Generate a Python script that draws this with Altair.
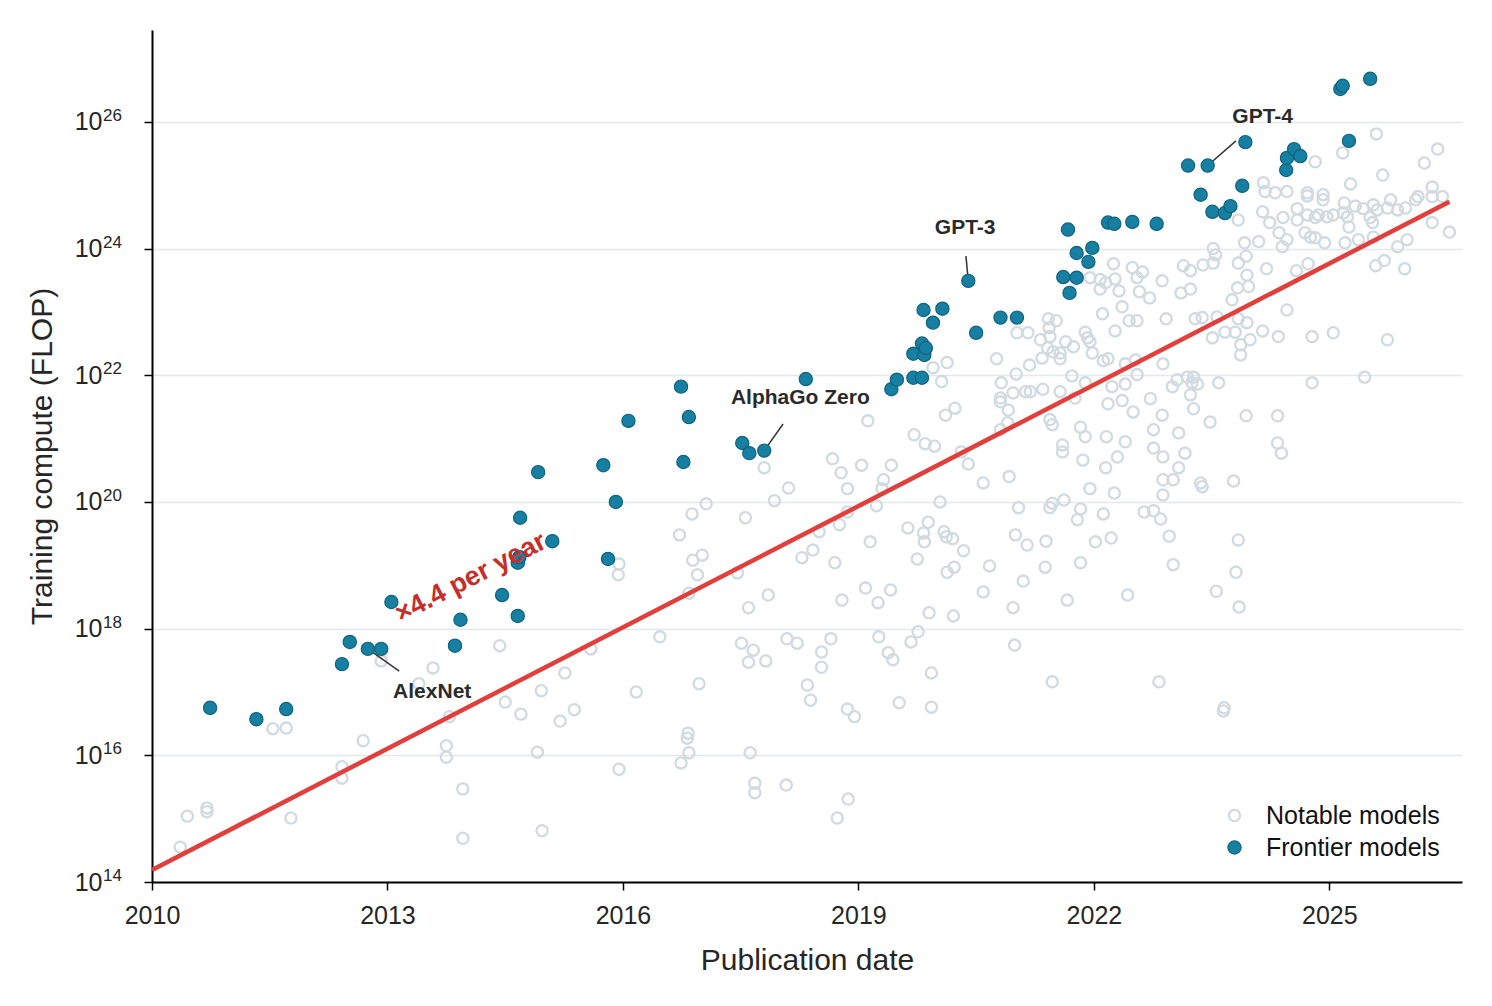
import altair as alt
import pandas as pd

# ---------------- data (publication year, log10 training FLOP) ----------------
notable_year = [
    2010.36, 2010.45, 2010.70, 2010.70, 2011.54, 2011.71, 2011.77, 2012.42, 2012.42, 2012.69,
    2012.92, 2013.40, 2013.58, 2013.79, 2013.75, 2013.75, 2013.96, 2013.96, 2014.43, 2014.50,
    2014.70, 2014.68, 2014.66, 2014.91, 2014.97, 2014.96, 2015.26, 2015.20, 2015.38, 2015.59,
    2015.95, 2015.94, 2015.95, 2016.17, 2016.47, 2016.72, 2016.88, 2017.06, 2016.89, 2017.01,
    2016.95, 2016.84, 2016.97, 2016.83, 2016.82, 2016.84, 2016.74, 2017.56, 2017.46, 2017.60,
    2017.51, 2017.66, 2017.60, 2017.62, 2017.68, 2017.68, 2017.80, 2017.93, 2018.11, 2018.67,
    2018.78, 2018.86, 2019.04, 2019.12, 2019.42, 2019.32, 2019.30, 2019.23, 2019.71, 2019.85,
    2019.97, 2020.11, 2020.23, 2019.95, 2020.13, 2020.06, 2020.31, 2020.40, 2020.59, 2020.04,
    2020.76, 2020.82, 2021.01, 2021.18, 2020.97, 2021.13, 2021.19, 2020.81, 2020.81, 2020.91,
    2021.35, 2021.57, 2021.44, 2021.47, 2021.60, 2021.60, 2020.92, 2020.81, 2020.90, 2021.04,
    2021.44, 2021.47, 2021.62, 2021.00, 2021.15, 2021.39, 2021.38, 2021.10, 2020.97, 2020.99,
    2021.47, 2021.66, 2020.67, 2020.59, 2020.21, 2020.34, 2020.22, 2020.13, 2020.09, 2020.12,
    2020.20, 2019.89, 2019.83, 2019.84, 2019.63, 2019.75, 2019.90, 2019.76, 2019.67, 2019.26,
    2019.38, 2019.44, 2019.93, 2019.52, 2019.93, 2019.15, 2018.76, 2018.86, 2018.50, 2018.42,
    2018.28, 2018.70, 2017.85, 2018.79, 2019.09, 2019.25, 2019.41, 2018.09, 2018.22, 2017.82,
    2018.65, 2018.53, 2018.53, 2018.35, 2018.39, 2018.86, 2018.95, 2018.08, 2018.87, 2018.73,
    2022.25, 2022.49, 2022.62, 2022.55, 2022.87, 2023.14, 2023.23, 2023.52, 2023.55, 2023.39,
    2023.52, 2023.84, 2021.95, 2022.08, 2022.15, 2022.27, 2022.08, 2022.32, 2022.58, 2022.71,
    2023.11, 2023.23, 2023.76, 2023.83, 2022.36, 2022.11, 2021.42, 2021.52, 2021.43, 2021.02,
    2021.16, 2021.32, 2021.44, 2021.41, 2021.48, 2021.57, 2021.64, 2021.74, 2021.89, 2021.92,
    2021.95, 2021.98, 2022.27, 2022.45, 2022.55, 2022.92, 2023.29, 2023.38, 2023.57, 2023.51,
    2023.67, 2021.34, 2021.57, 2022.12, 2022.18, 2022.40, 2022.53, 2022.88, 2021.72, 2021.89,
    2021.76, 2022.23, 2022.40, 2022.55, 2022.18, 2022.36, 2022.50, 2022.72, 2023.00, 2023.06,
    2023.19, 2023.27, 2023.25, 2023.32, 2023.59, 2023.23, 2023.27, 2023.48, 2022.87, 2021.83,
    2021.89, 2022.16, 2022.40, 2021.86, 2022.30, 2022.15, 2022.76, 2022.76, 2022.88, 2023.08,
    2023.16, 2023.08, 2021.95, 2022.26, 2022.88, 2023.01, 2022.88, 2023.36, 2023.38, 2023.78,
    2021.83, 2021.79, 2022.12, 2022.64, 2022.76, 2022.85, 2022.02, 2022.22, 2022.96, 2023.84,
    2021.83, 2023.01, 2022.43, 2023.56, 2023.85, 2023.81, 2022.83, 2023.65, 2023.66,
    2025.60, 2026.38, 2026.21, 2025.17, 2024.82, 2025.68, 2025.27, 2024.16, 2024.18, 2024.31,
    2024.46, 2024.72, 2024.72, 2024.92, 2024.92, 2025.19, 2025.33, 2025.43, 2025.56, 2025.61,
    2025.78, 2025.74, 2025.87, 2025.97, 2026.10, 2026.13, 2026.31, 2026.31, 2026.44, 2024.15,
    2024.24, 2024.41, 2024.59, 2024.59, 2024.72, 2024.82, 2024.86, 2024.97, 2025.05, 2025.18,
    2025.23, 2025.25, 2025.20, 2025.52, 2025.55, 2025.56, 2025.37, 2024.36, 2024.46, 2024.40,
    2024.69, 2024.76, 2024.82, 2024.94, 2023.84, 2024.10, 2023.92, 2025.87, 2025.99, 2026.31,
    2026.53, 2023.94, 2023.95, 2023.97, 2024.20, 2024.58, 2024.73, 2025.59, 2025.70, 2025.96,
    2024.46, 2023.84, 2023.95, 2023.80, 2023.99, 2023.87, 2023.87, 2024.15, 2024.35, 2024.78,
    2025.05, 2025.74, 2024.78, 2025.45, 2023.94, 2024.34, 2024.34, 2024.39,
]
notable_log = [
    14.55, 15.04, 15.17, 15.11, 16.42, 16.43, 15.01, 15.82, 15.64, 16.23,
    17.49, 17.13, 17.38, 16.61, 16.15, 15.97, 15.47, 14.69, 17.73, 16.84,
    16.65, 19.05, 18.20, 16.05, 14.81, 17.02, 17.30, 16.54, 16.72, 17.68,
    19.02, 18.85, 15.78, 17.00, 17.87, 19.48, 19.81, 19.97, 19.08, 19.16,
    18.85, 18.56, 17.13, 16.35, 16.27, 16.04, 15.88, 19.75, 18.88, 18.33,
    17.77, 17.66, 17.47, 16.04, 15.56, 15.41, 20.54, 20.02, 20.22, 20.68,
    20.46, 20.21, 20.58, 21.28, 20.58, 20.35, 20.21, 19.94, 21.06, 20.92,
    20.88, 21.37, 21.48, 22.12, 22.20, 21.90, 20.79, 20.60, 20.30, 20.00,
    22.26, 21.88, 22.02, 22.16, 21.72, 21.74, 21.74, 21.64, 21.58, 21.45,
    21.78, 21.74, 21.30, 21.22, 20.90, 20.79, 20.40, 21.14, 21.25, 19.91,
    19.91, 19.98, 20.03, 19.48, 19.32, 19.38, 18.97, 18.75, 18.33, 17.74,
    17.16, 18.45, 18.99, 18.58, 18.20, 19.23, 18.97, 18.89, 19.53, 19.45,
    19.42, 19.68, 19.51, 19.37, 19.59, 19.10, 18.25, 17.95, 17.79, 17.87,
    17.62, 17.51, 17.30, 16.83, 16.76, 19.37, 19.64, 19.84, 19.53, 19.24,
    19.12, 19.04, 18.53, 18.45, 18.64, 18.41, 18.61, 17.84, 17.77, 17.49,
    17.84, 17.63, 17.39, 17.11, 16.87, 16.73, 16.61, 15.53, 15.31, 15.01,
    23.76, 23.70, 23.63, 23.54, 23.49, 23.73, 23.65, 24.00, 23.90, 23.74,
    23.77, 23.77, 23.54, 23.51, 23.46, 23.52, 23.36, 23.33, 23.32, 23.22,
    23.30, 23.36, 23.19, 23.38, 23.08, 22.97, 22.89, 22.86, 22.75, 22.67,
    22.67, 22.56, 22.61, 22.43, 22.37, 22.35, 22.53, 22.45, 22.68, 22.59,
    22.53, 22.35, 22.70, 22.86, 22.86, 22.89, 22.89, 22.91, 22.92, 22.59,
    22.68, 22.27, 22.26, 22.23, 22.26, 22.18, 22.24, 22.18, 21.99, 21.88,
    21.64, 21.82, 21.86, 22.01, 21.55, 21.60, 21.42, 21.63, 21.82, 21.93,
    21.97, 21.97, 21.88, 21.86, 21.88, 21.69, 21.47, 21.26, 21.37, 21.18,
    21.03, 21.03, 20.95, 20.66, 20.71, 20.54, 21.14, 20.85, 20.71, 21.09,
    20.77, 20.54, 20.21, 20.14, 20.35, 20.35, 20.11, 20.30, 20.24, 20.33,
    19.89, 19.72, 19.81, 19.84, 19.86, 19.73, 19.37, 19.43, 19.46, 19.40,
    19.04, 19.01, 18.53, 18.59, 18.34, 18.89, 17.16, 16.70, 16.75,
    25.81, 25.57, 25.35, 25.51, 25.37, 25.16, 25.02, 25.04, 24.90, 24.88,
    24.90, 24.88, 24.83, 24.85, 24.77, 24.72, 24.67, 24.63, 24.69, 24.61,
    24.77, 24.64, 24.61, 24.64, 24.77, 24.82, 24.97, 24.82, 24.82, 24.58,
    24.41, 24.49, 24.63, 24.45, 24.53, 24.49, 24.53, 24.50, 24.53, 24.56,
    24.50, 24.34, 24.09, 24.49, 24.41, 24.18, 24.14, 24.25, 24.14, 24.03,
    24.25, 24.18, 24.17, 24.09, 24.45, 24.11, 24.09, 24.03, 24.14, 24.41,
    24.26, 23.88, 23.58, 23.40, 23.68, 23.65, 23.76, 23.73, 23.81, 23.68,
    23.03, 22.89, 22.83, 22.68, 22.56, 22.48, 22.32, 22.70, 22.61, 22.61,
    22.67, 22.56, 21.88, 21.97, 21.36, 21.36, 20.93, 20.77,
]

frontier_year = [
    2010.74, 2011.33, 2011.71, 2012.42, 2012.52, 2012.75, 2012.92, 2013.05, 2013.86, 2013.93,
    2014.46, 2014.66, 2014.66, 2014.68, 2014.69, 2014.92, 2015.10, 2015.75, 2015.81, 2015.91,
    2016.07, 2016.74, 2016.77, 2016.84, 2017.52, 2017.61, 2017.80, 2018.33, 2019.42, 2019.49,
    2019.70, 2019.70, 2019.81, 2019.83, 2019.84, 2019.86, 2019.81, 2019.95, 2020.07, 2020.40,
    2020.50, 2020.81, 2021.02, 2021.61, 2021.67, 2021.69, 2021.78, 2021.78, 2021.93, 2021.98,
    2022.18, 2022.26, 2022.49, 2022.80, 2023.20, 2023.36, 2023.45, 2023.51, 2023.67, 2023.74,
    2023.89, 2023.93, 2024.45, 2024.46, 2024.55, 2024.63, 2025.14, 2025.17, 2025.25, 2025.52,
]
frontier_log = [
    16.75, 16.57, 16.73, 17.44, 17.79, 17.68, 17.68, 18.42, 17.73, 18.14,
    18.53, 18.20, 19.04, 19.13, 19.75, 20.47, 19.38, 20.58, 19.10, 20.00,
    21.28, 21.82, 20.63, 21.34, 20.93, 20.77, 20.81, 21.94, 21.78, 21.93,
    21.96, 22.34, 22.50, 23.03, 22.32, 22.43, 21.96, 22.83, 23.05, 23.49,
    22.67, 22.91, 22.91, 23.55, 24.30, 23.30, 23.54, 23.93, 23.79, 24.01,
    24.41, 24.39, 24.42, 24.39, 25.31, 24.85, 25.31, 24.58, 24.56, 24.67,
    24.99, 25.68, 25.24, 25.43, 25.57, 25.46, 26.52, 26.57, 25.70, 26.68,
]

# trend fit: x4.4 per year
trend_year = [2010.0, 2026.53]
trend_log = [14.19, 24.74]

# labelled models: name, label position, leader line start/end
label_names = ["AlexNet", "AlphaGo Zero", "GPT-3", "GPT-4"]
label_year = [2013.57, 2018.26, 2020.36, 2024.15]
label_log = [17.00, 21.64, 24.33, 26.08]
leader_year = [2012.75, 2017.80, 2020.40, 2023.45]
leader_log = [17.68, 20.81, 23.49, 25.31]
leader_year2 = [2013.15, 2018.04, 2020.37, 2023.81]
leader_log2 = [17.33, 21.23, 23.88, 25.70]

slope_text = "×4.4 per year"
slope_year = [2014.06]
slope_log = [18.80]

x_ticks = [2010, 2013, 2016, 2019, 2022, 2025]
y_exps = [14, 16, 18, 20, 22, 24, 26]

NOTABLE = "Notable models"
FRONTIER = "Frontier models"

# ---------------- tables ----------------
notable = pd.DataFrame({"year": notable_year,
                        "flop": [10 ** v for v in notable_log],
                        "type": NOTABLE})
frontier = pd.DataFrame({"year": frontier_year,
                         "flop": [10 ** v for v in frontier_log],
                         "type": FRONTIER})
trend = pd.DataFrame({"year": trend_year, "flop": [10 ** v for v in trend_log]})
labels = pd.DataFrame({"year": label_year, "flop": [10 ** v for v in label_log],
                       "name": label_names})
leaders = pd.DataFrame({"year": leader_year, "flop": [10 ** v for v in leader_log],
                        "year2": leader_year2, "flop2": [10 ** v for v in leader_log2]})
slope = pd.DataFrame({"year": slope_year, "flop": [10 ** v for v in slope_log],
                      "t": [slope_text]})
# exponents for the y tick labels (10^e), drawn as superscripts
expo = pd.DataFrame({"year": [x_ticks[0]] * len(y_exps),
                     "flop": [10 ** e for e in y_exps],
                     "e": [str(e) for e in y_exps]})

FONT = "Liberation Sans"
TXT = "#262626"

x_enc = alt.X("year:Q",
              scale=alt.Scale(domain=[2010, 2026.69], nice=False, zero=False),
              axis=alt.Axis(values=x_ticks, format="d", title="Publication date",
                            grid=False, labelFontSize=25, titleFontSize=30,
                            labelPadding=13, titlePadding=17, tickSize=8,
                            labelFlush=False))
y_enc = alt.Y("flop:Q",
              scale=alt.Scale(type="log", domain=[1e14, 10 ** 27.45], nice=False),
              axis=alt.Axis(values=[10 ** e for e in y_exps], labelExpr="'10'",
                            title="Training compute (FLOP)", grid=True,
                            gridColor="#e4e8eb", gridWidth=1.5,
                            labelFontSize=25, titleFontSize=30,
                            labelPadding=42, titlePadding=17, tickSize=8,
                            labelFlush=False))

dom = [NOTABLE, FRONTIER]
legend = alt.Legend(title=None, orient="none", legendX=1070, legendY=773,
                    labelFontSize=25, labelFont=FONT, labelColor="#111111",
                    labelLimit=0, labelOffset=19, rowPadding=6, padding=0)
fill_enc = alt.Fill("type:N", scale=alt.Scale(domain=dom, range=["transparent", "#177fa1"]),
                    legend=legend)
stroke_enc = alt.Stroke("type:N", scale=alt.Scale(domain=dom, range=["#d0dae0", "#0f6480"]),
                        legend=legend)
size_enc = alt.Size("type:N", scale=alt.Scale(domain=dom, range=[125, 175]), legend=legend)
sw_enc = alt.StrokeWidth("type:N", scale=alt.Scale(domain=dom, range=[2.3, 1.2]),
                         legend=legend)

enc = dict(x=x_enc, y=y_enc, fill=fill_enc, stroke=stroke_enc, size=size_enc,
           strokeWidth=sw_enc)

notable_layer = alt.Chart(notable).mark_circle(opacity=1).encode(**enc)
frontier_layer = alt.Chart(frontier).mark_circle(opacity=1).encode(**enc)

trend_layer = alt.Chart(trend).mark_line(color="#e03f3c", strokeWidth=4.5,
                                         strokeCap="butt").encode(
    x="year:Q", y="flop:Q")

leader_layer = alt.Chart(leaders).mark_rule(color="#333333", strokeWidth=1.5).encode(
    x="year:Q", y="flop:Q", x2="year2:Q", y2="flop2:Q")

label_layer = alt.Chart(labels).mark_text(font=FONT, fontSize=21, fontWeight="bold",
                                          color="#2a2a2a").encode(
    x="year:Q", y="flop:Q", text="name:N")

slope_layer = alt.Chart(slope).mark_text(font=FONT, fontSize=27, fontWeight="bold",
                                         color="#c62d2b", angle=332.7,
                                         align="center", baseline="middle").encode(
    x="year:Q", y="flop:Q", text="t:N")

expo_layer = alt.Chart(expo).mark_text(font=FONT, fontSize=17, color=TXT,
                                       align="left", baseline="middle",
                                       dx=-49, dy=-6).encode(
    x="year:Q", y="flop:Q", text="e:N")

chart = alt.layer(
    notable_layer, trend_layer, leader_layer, frontier_layer, label_layer, slope_layer,
    expo_layer
).properties(
    width=1310, height=852,
    autosize="none",
    padding={"left": 144, "top": 22, "right": 22, "bottom": 116},
    background="white",
).configure_view(stroke=None).configure_axis(
    labelFont=FONT, titleFont=FONT, labelColor=TXT, titleColor=TXT,
    titleFontWeight="normal", domainColor="#000000", domainWidth=2,
    tickColor="#000000", tickWidth=1.5,
).configure_legend(symbolType="circle")

chart.save("out.html", embed_options={"renderer": "svg", "actions": False})
